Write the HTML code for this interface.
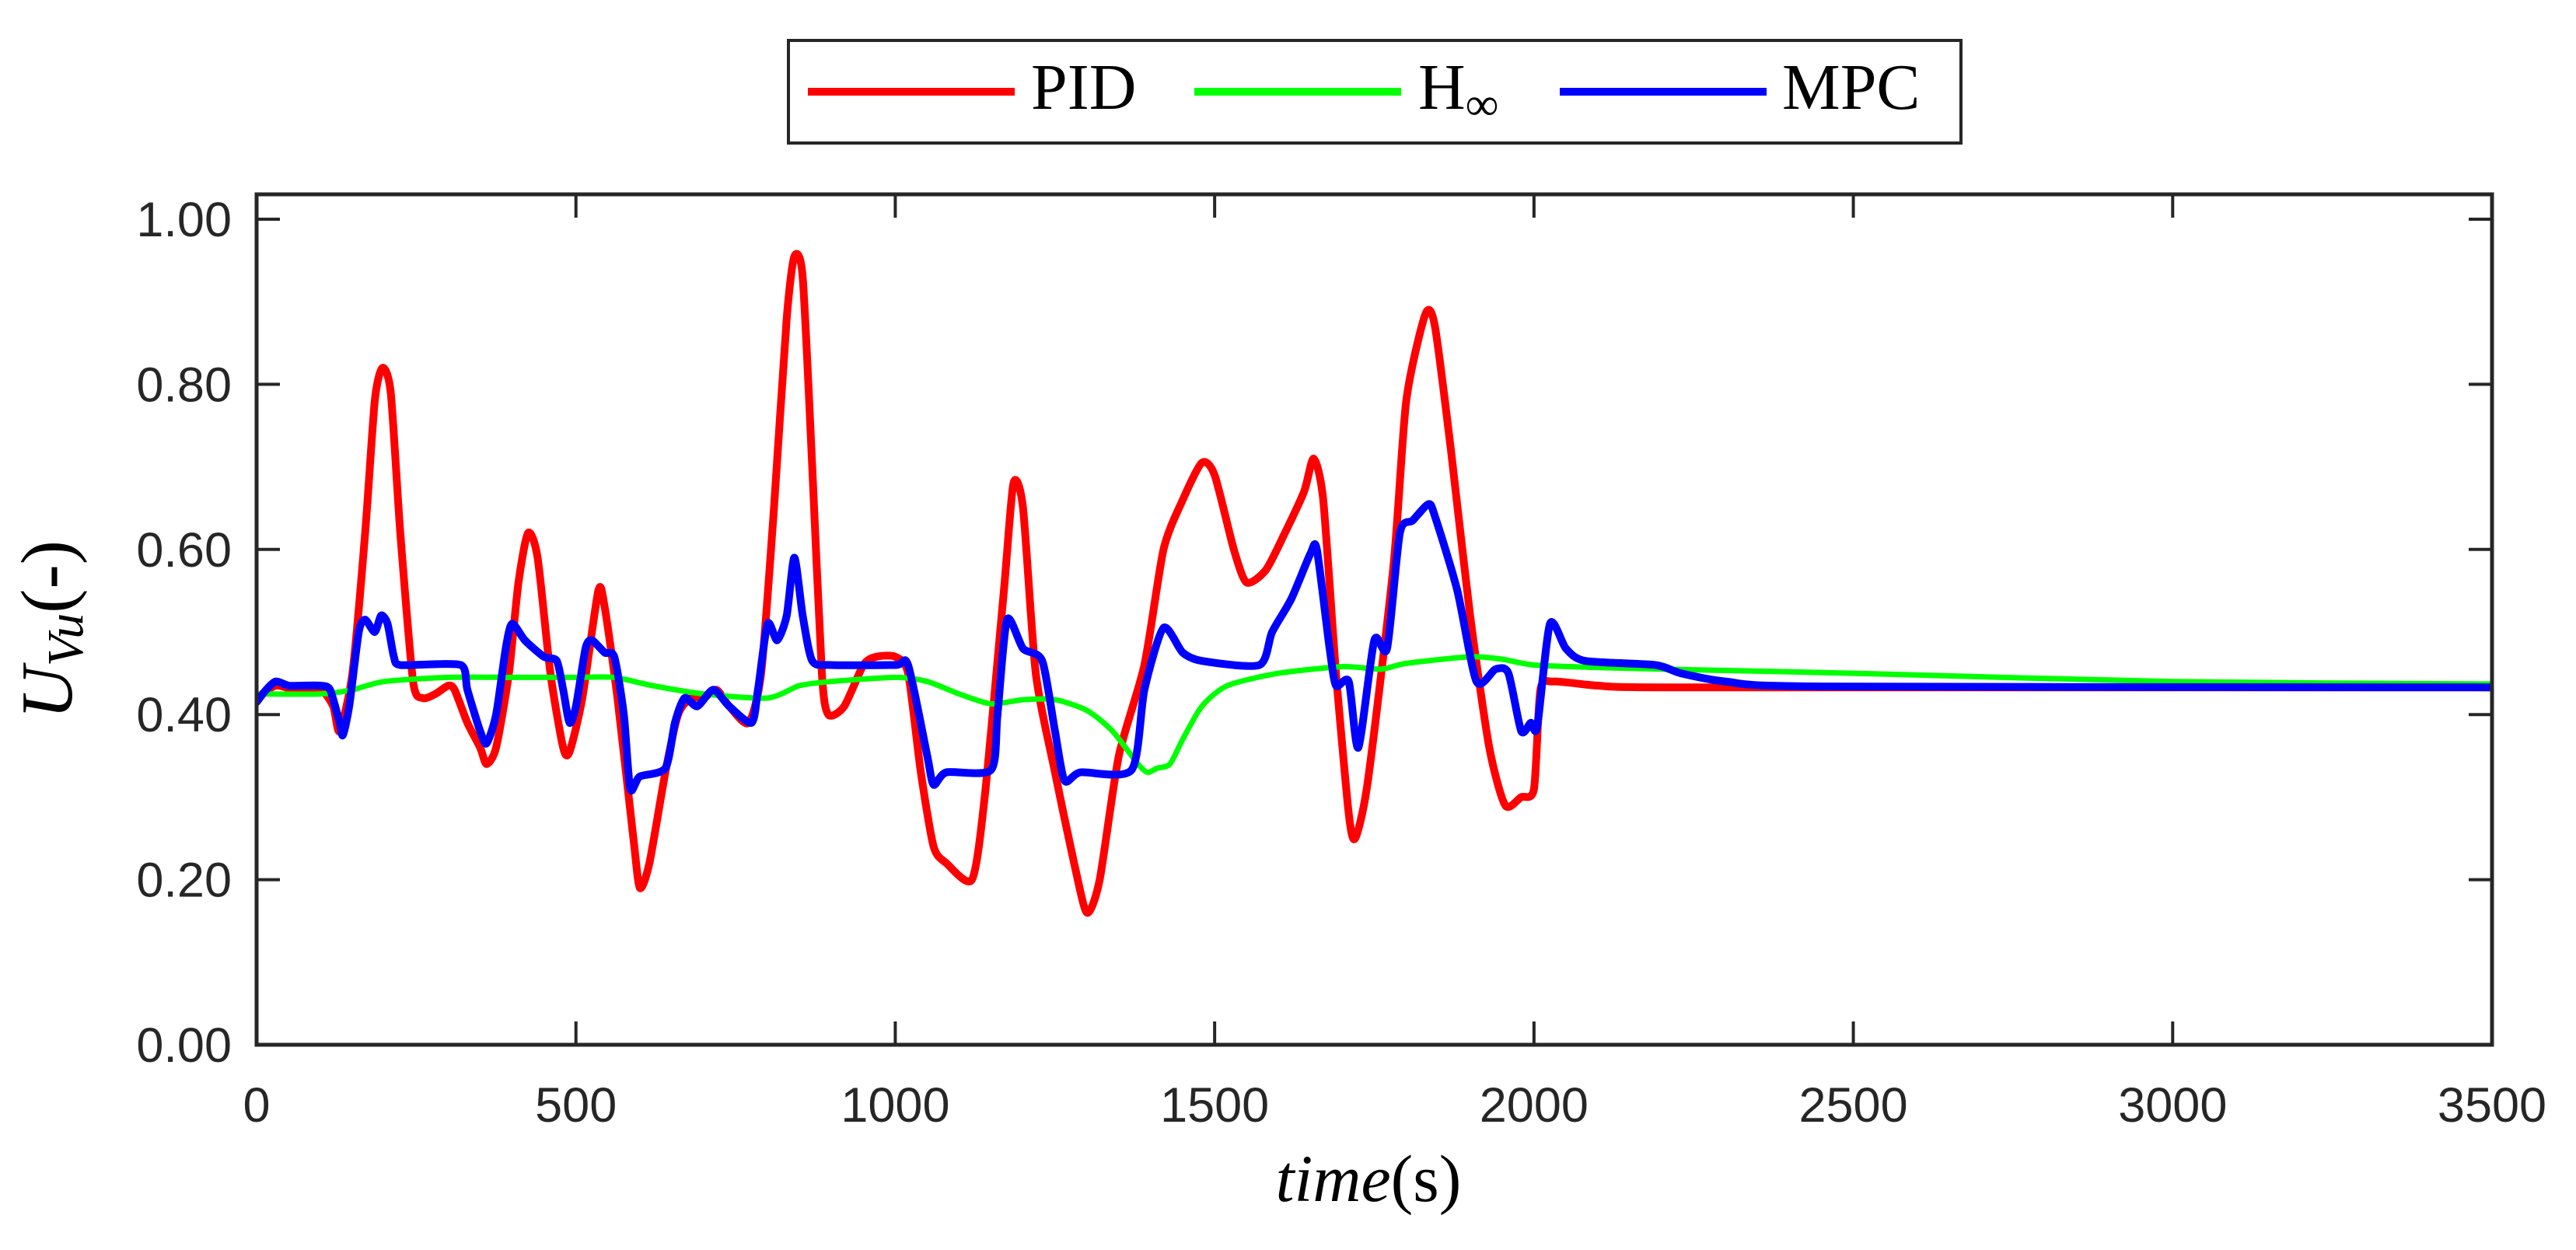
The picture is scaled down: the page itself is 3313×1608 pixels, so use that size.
<!DOCTYPE html>
<html><head><meta charset="utf-8">
<style>
html,body{margin:0;padding:0;background:#fff;}
svg{display:block;}
text{font-family:"Liberation Sans",sans-serif;fill:#262626;}
.serif{font-family:"Liberation Serif",serif;fill:#000;}
</style></head>
<body>
<svg id="chart" width="3313" height="1608" viewBox="0 0 3313 1608" xmlns="http://www.w3.org/2000/svg">
  <rect x="0" y="0" width="3313" height="1608" fill="#fff"/>
  <g id="series"></g>
  <g id="axes"></g>
  <g>
    <rect x="1014" y="52" width="1508" height="132" fill="#fff" stroke="#262626" stroke-width="4"/>
    <line x1="1039" y1="118" x2="1305" y2="118" stroke="#ff0000" stroke-width="10"/>
    <text class="serif" x="1326" y="140" font-size="84">PID</text>
    <line x1="1536" y1="118" x2="1802" y2="118" stroke="#00ff00" stroke-width="10"/>
    <text class="serif" x="1824" y="140" font-size="84">H<tspan font-size="60" dy="14">∞</tspan></text>
    <line x1="2006" y1="118" x2="2272" y2="118" stroke="#0000ff" stroke-width="10"/>
    <text class="serif" x="2292" y="140" font-size="84">MPC</text>
  </g>
  <text class="serif" x="1760" y="1545" font-size="86" text-anchor="middle"><tspan font-style="italic">time</tspan>(s)</text>
  <text class="serif" transform="translate(92,810) rotate(-90)" font-size="94" text-anchor="middle"><tspan font-style="italic">U</tspan><tspan font-style="italic" font-size="66" dy="14">Vu</tspan><tspan dy="-14">(-)</tspan></text>
</svg>
<script>
const xTicks = [0,500,1000,1500,2000,2500,3000,3500];
const yTicks = [0,0.2,0.4,0.6,0.8,1.0];
const yTickLabels = ["0.00","0.20","0.40","0.60","0.80","1.00"];
const pidT = [0,30,60,100,120,130,150,170,185,197,210,225,245,260,280,300,310,330,350,360,375,395,410,425,440,460,480,490,510,535,545,565,590,600,615,640,660,680,700,720,740,770,790,810,830,842,855,870,885,895,920,950,970,1000,1020,1040,1060,1080,1120,1140,1170,1185,1200,1220,1250,1280,1300,1320,1350,1390,1420,1450,1480,1500,1530,1550,1580,1610,1640,1655,1670,1690,1710,1720,1740,1780,1800,1830,1845,1870,1900,1930,1955,1980,2000,2010,2030,2100,2200,3500];
const pidV = [0.42,0.435,0.43,0.43,0.41,0.38,0.45,0.62,0.78,0.82,0.79,0.62,0.44,0.42,0.425,0.435,0.43,0.39,0.36,0.34,0.36,0.45,0.56,0.62,0.59,0.45,0.36,0.355,0.42,0.55,0.53,0.42,0.25,0.19,0.22,0.33,0.40,0.42,0.42,0.43,0.41,0.39,0.45,0.65,0.88,0.955,0.93,0.70,0.45,0.40,0.41,0.46,0.47,0.47,0.45,0.33,0.24,0.22,0.20,0.30,0.55,0.68,0.65,0.45,0.33,0.22,0.16,0.20,0.35,0.46,0.60,0.66,0.705,0.69,0.60,0.56,0.575,0.62,0.67,0.71,0.66,0.45,0.28,0.25,0.32,0.58,0.78,0.885,0.87,0.72,0.52,0.36,0.29,0.30,0.31,0.43,0.44,0.435,0.433,0.433];
const hinfT = [0,100,150,200,300,400,500,560,620,700,800,850,900,1000,1050,1100,1150,1200,1250,1300,1340,1380,1395,1410,1430,1450,1480,1520,1600,1700,1760,1800,1900,1950,2000,2100,2200,2500,3000,3500];
const hinfV = [0.425,0.425,0.43,0.44,0.445,0.445,0.445,0.445,0.435,0.425,0.42,0.435,0.44,0.445,0.44,0.425,0.413,0.418,0.418,0.405,0.38,0.34,0.33,0.335,0.34,0.37,0.41,0.435,0.45,0.458,0.455,0.462,0.47,0.467,0.46,0.457,0.455,0.45,0.44,0.437];
const mpcT = [0,15,30,50,70,100,115,130,135,145,160,170,185,195,205,215,225,320,330,350,360,375,390,400,420,450,470,480,490,500,515,525,545,560,575,585,600,640,655,670,690,715,740,775,785,800,815,830,842,855,870,900,1000,1020,1050,1060,1080,1150,1160,1175,1200,1230,1250,1265,1290,1370,1390,1420,1450,1480,1570,1590,1620,1650,1660,1680,1690,1710,1725,1750,1770,1790,1810,1835,1845,1880,1910,1940,1960,1980,1995,2005,2025,2050,2080,2190,2230,2300,2450,3500];
const mpcV = [0.415,0.43,0.44,0.435,0.435,0.435,0.43,0.39,0.375,0.41,0.50,0.515,0.50,0.52,0.51,0.47,0.46,0.46,0.43,0.38,0.365,0.40,0.48,0.51,0.49,0.47,0.465,0.43,0.39,0.41,0.48,0.49,0.475,0.47,0.40,0.31,0.325,0.335,0.39,0.42,0.41,0.43,0.41,0.39,0.43,0.51,0.49,0.52,0.59,0.52,0.465,0.46,0.46,0.46,0.35,0.315,0.33,0.333,0.40,0.515,0.48,0.465,0.38,0.32,0.33,0.333,0.43,0.505,0.475,0.465,0.46,0.50,0.54,0.595,0.60,0.48,0.435,0.44,0.36,0.49,0.48,0.62,0.635,0.655,0.64,0.55,0.44,0.455,0.45,0.38,0.39,0.385,0.51,0.48,0.465,0.46,0.45,0.44,0.434,0.433];

const X0=330, X1=3205, YB=1344, YT=250;
const xMin=0, xMax=3500, yMin=0, yMax=1.0;
const y1px=282;
function sx(t){return X0+(t-xMin)/(xMax-xMin)*(X1-X0);}
function sy(v){return YB-(v-yMin)/(yMax-yMin)*(YB-y1px);}
const NS="http://www.w3.org/2000/svg";
const sg=document.getElementById('series');
const ag=document.getElementById('axes');

function drawSeries(ts,vs,color,w,name){
  const P=ts.map((t,i)=>[sx(t),sy(vs[i])]);
  const k=0.12;
  let d='M'+P[0][0].toFixed(1)+','+P[0][1].toFixed(1);
  for(let i=0;i<P.length-1;i++){
    const p0=P[Math.max(0,i-1)],p1=P[i],p2=P[i+1],p3=P[Math.min(P.length-1,i+2)];
    const c1x=p1[0]+(p2[0]-p0[0])*k, c1y=p1[1]+(p2[1]-p0[1])*k;
    const c2x=p2[0]-(p3[0]-p1[0])*k, c2y=p2[1]-(p3[1]-p1[1])*k;
    const cx1=Math.min(Math.max(c1x,p1[0]),p2[0]), cx2=Math.min(Math.max(c2x,p1[0]),p2[0]);
    d+='C'+cx1.toFixed(1)+','+c1y.toFixed(1)+' '+cx2.toFixed(1)+','+c2y.toFixed(1)+' '+p2[0].toFixed(1)+','+p2[1].toFixed(1);
  }
  const p=document.createElementNS(NS,'path');
  p.setAttribute('d',d);p.setAttribute('fill','none');p.setAttribute('stroke',color);
  p.setAttribute('stroke-width',w);p.setAttribute('stroke-linejoin','round');p.setAttribute('stroke-linecap','round');
  
  
  sg.appendChild(p);
}
const clip=document.createElementNS(NS,'clipPath');clip.setAttribute('id','pc');
const cr=document.createElementNS(NS,'rect');cr.setAttribute('x',X0);cr.setAttribute('y',YT);cr.setAttribute('width',X1-X0);cr.setAttribute('height',YB-YT);
clip.appendChild(cr);document.getElementById('chart').appendChild(clip);
sg.setAttribute('clip-path','url(#pc)');
drawSeries(pidT,pidV,'#ff0000',10,'pid-line');
drawSeries(hinfT,hinfV,'#00ff00',7,'hinf-line');
drawSeries(mpcT,mpcV,'#0000ff',10,'mpc-line');

function line(x1,y1,x2,y2,w){
  const l=document.createElementNS(NS,'line');
  l.setAttribute('x1',x1);l.setAttribute('y1',y1);l.setAttribute('x2',x2);l.setAttribute('y2',y2);
  l.setAttribute('stroke','#262626');l.setAttribute('stroke-width',w);
  
  
  ag.appendChild(l);return l;
}
xTicks.forEach(t=>{
  const x=sx(t);
  line(x,YB,x,YB-30,4);line(x,YT,x,YT+30,4);
  const tx=document.createElementNS(NS,'text');
  tx.setAttribute('x',x);tx.setAttribute('y',1443);tx.setAttribute('font-size','63');tx.setAttribute('text-anchor','middle');
  tx.textContent=String(t);
  
  
  ag.appendChild(tx);
});
yTicks.forEach((v,i)=>{
  const y=sy(v);
  line(X0,y,X0+30,y,4);line(X1,y,X1-30,y,4);
  const tx=document.createElementNS(NS,'text');
  tx.setAttribute('x',298);tx.setAttribute('y',y+22);tx.setAttribute('font-size','63');tx.setAttribute('text-anchor','end');
  tx.textContent=yTickLabels[i];
  
  
  ag.appendChild(tx);
});
const fr=document.createElementNS(NS,'rect');
fr.setAttribute('x',X0);fr.setAttribute('y',YT);fr.setAttribute('width',X1-X0);fr.setAttribute('height',YB-YT);
fr.setAttribute('fill','none');fr.setAttribute('stroke','#262626');fr.setAttribute('stroke-width',5);


ag.appendChild(fr);
</script>
</body></html>
